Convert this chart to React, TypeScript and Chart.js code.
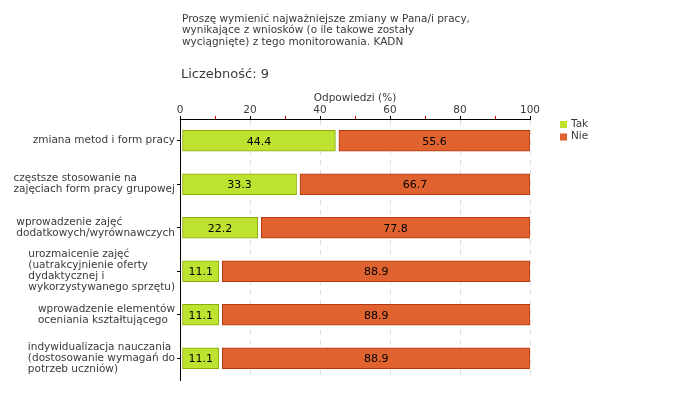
import React, { useEffect, useRef } from 'react';
import { Chart, registerables } from 'chart.js';

Chart.register(...registerables);

const titleLines = [
  'Proszę wymienić najważniejsze zmiany w Pana/i pracy,',
  'wynikające z wniosków (o ile takowe zostały',
  'wyciągnięte) z tego monitorowania. KADN',
];
const countLabel = 'Liczebność: 9';
const axisTitle = 'Odpowiedzi (%)';
const categories: string[][] = [
  ['zmiana metod i form pracy'],
  ['częstsze stosowanie na', 'zajęciach form pracy grupowej'],
  ['wprowadzenie zajęć', 'dodatkowych/wyrównawczych'],
  ['urozmaicenie zajęć', '(uatrakcyjnienie oferty', 'dydaktycznej i', 'wykorzystywanego sprzętu)'],
  ['wprowadzenie elementów', 'oceniania kształtującego'],
  ['indywidualizacja nauczania', '(dostosowanie wymagań do', 'potrzeb uczniów)'],
];
const seriesNames = ['Tak', 'Nie'];
const takValues = [44.4, 33.3, 22.2, 11.1, 11.1, 11.1];
const nieValues = [55.6, 66.7, 77.8, 88.9, 88.9, 88.9];
const xMin = 0;
const xMax = 100;
const xStep = 10;
const xLabelStep = 20;

const FONT = '"DejaVu Sans", Verdana, sans-serif';
const TEXT = '#3a3a3a';
const fills = ['#bde22f', '#e0632f'];
const borders = ['#8aaa0c', '#b5380e'];

const overlay = {
  id: 'overlay',
  afterDatasetsUpdate(chart: any) {
    chart.data.datasets.forEach((_ds: any, i: number) => {
      const meta = chart.getDatasetMeta(i);
      meta.data.forEach((el: any) => {
        el.base = el.base + (i === 0 ? 2 : 3.5);
      });
    });
  },
  afterDatasetsDraw(chart: any) {
    const ctx = chart.ctx;
    ctx.save();
    ctx.fillStyle = '#000';
    ctx.font = `11px ${FONT}`;
    ctx.textAlign = 'center';
    ctx.textBaseline = 'middle';
    chart.data.datasets.forEach((ds: any, i: number) => {
      const meta = chart.getDatasetMeta(i);
      meta.data.forEach((el: any, j: number) => {
        const v = ds.data[j];
        ctx.fillText(v.toFixed(1), (el.base + el.x) / 2, el.y + 1);
      });
    });
    ctx.restore();
  },
  afterDraw(chart: any) {
    const ctx = chart.ctx;
    const area = chart.chartArea;
    ctx.save();
    ctx.fillStyle = TEXT;
    ctx.textBaseline = 'middle';
    ctx.textAlign = 'left';
    // title
    ctx.font = `10.5px ${FONT}`;
    titleLines.forEach((t, i) => ctx.fillText(t, 182, 19 + i * 11.5));
    // count
    ctx.font = `13px ${FONT}`;
    ctx.fillText(countLabel, 181, 75);
    // axis title
    ctx.font = `10.5px ${FONT}`;
    ctx.textAlign = 'center';
    ctx.fillText(axisTitle, (area.left + area.right) / 2, 98);
    // y labels
    const yScale = chart.scales.y;
    ctx.textAlign = 'left';
    ctx.font = `10.5px ${FONT}`;
    categories.forEach((lines, i) => {
      const yc = yScale.getPixelForTick(i);
      const w = Math.max(...lines.map((l) => ctx.measureText(l).width));
      const lh = 11;
      const y0 = yc - ((lines.length - 1) * lh) / 2;
      lines.forEach((l, k) => ctx.fillText(l, area.left - 5 - w, y0 + k * lh));
    });
    // legend
    chart.data.datasets.forEach((ds: any, i: number) => {
      const y = 124 + i * 12.5;
      ctx.fillStyle = ds.backgroundColor;
      ctx.fillRect(560, y - 3, 7, 7);
      ctx.fillStyle = TEXT;
      ctx.font = `10.5px ${FONT}`;
      ctx.fillText(ds.label, 571, y);
    });
    ctx.restore();
  },
};

export default function App() {
  const ref = useRef<HTMLCanvasElement | null>(null);
  useEffect(() => {
    document.body.style.margin = '0';
    const canvas = ref.current!;
    const chart = new Chart(canvas, {
      type: 'bar',
      data: {
        labels: categories.map((c) => c.join(' ')),
        datasets: [
          {
            label: seriesNames[0],
            data: takValues,
            backgroundColor: fills[0],
            borderColor: borders[0],
            borderWidth: 1,
            borderSkipped: false,
            barThickness: 21,
          },
          {
            label: seriesNames[1],
            data: nieValues,
            backgroundColor: fills[1],
            borderColor: borders[1],
            borderWidth: 1,
            borderSkipped: false,
            barThickness: 21,
          },
        ],
      },
      options: {
        responsive: false,
        animation: false,
        indexAxis: 'y',
        layout: { padding: { left: 0, right: 150, top: 0, bottom: 20 } },
        plugins: { legend: { display: false }, tooltip: { enabled: false }, title: { display: false } },
        scales: {
          x: {
            position: 'top',
            stacked: true,
            min: xMin,
            max: xMax,
            afterFit: (s: any) => {
              s.height = 119;
            },
            ticks: {
              stepSize: xStep,
              autoSkip: false,
              maxRotation: 0,
              padding: -1,
              color: TEXT,
              font: { family: FONT, size: 10.5 },
              callback: (v: any) => (Number(v) % xLabelStep === 0 ? String(v) : ''),
            },
            grid: {
              color: (c: any) =>
                c.tick && c.tick.value % xLabelStep === 0 && c.tick.value !== 0 ? '#dddddd' : 'rgba(0,0,0,0)',
              tickColor: (c: any) => (c.tick && c.tick.value % xLabelStep === 0 ? '#000000' : '#e00000'),
              tickLength: 3,
              lineWidth: 1,
            },
            border: { display: true, color: '#000', width: 1, dash: [5, 5] },
          },
          y: {
            stacked: true,
            afterFit: (s: any) => {
              s.width = 180;
            },
            ticks: { callback: () => '' },
            grid: { drawOnChartArea: false, offset: false, tickLength: 3, tickColor: '#000', color: '#000' },
            border: { display: true, color: '#000', width: 1 },
          },
        },
      } as any,
      plugins: [overlay],
    });
    return () => chart.destroy();
  }, []);
  return <canvas ref={ref} width={680} height={400} style={{ display: 'block' }} />;
}
